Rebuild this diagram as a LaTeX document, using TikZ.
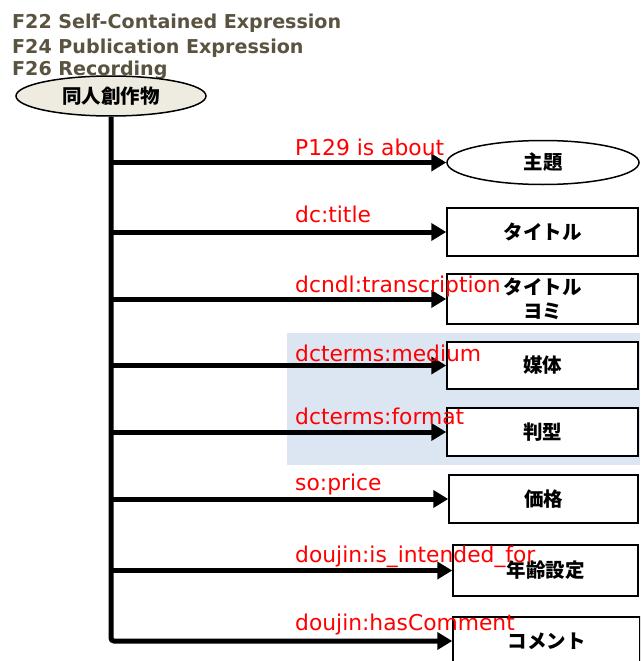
\documentclass[tikz,border=0pt]{standalone}
\usepackage{fontspec}
\setmainfont{DejaVu Sans}
\newfontfamily\jpfont{Noto Sans CJK JP}
\usetikzlibrary{arrows.meta,shapes.geometric}
\definecolor{titlecol}{RGB}{89,83,64}
\definecolor{rootfill}{RGB}{238,236,225}
\definecolor{shadecol}{RGB}{220,230,242}
\begin{document}
\begin{tikzpicture}[x=1pt,y=-1pt,
  titletxt/.style={anchor=base west, inner sep=0pt, text=titlecol, font=\fontsize{19.1}{19.1}\selectfont\bfseries},
  lbl/.style={anchor=base west, inner sep=0pt, text=red, font=\fontsize{21.8}{21.8}\selectfont},
  jp/.style={font=\jpfont\bfseries\fontsize{19.5}{24}\selectfont},
  oval/.style={ellipse, draw, line width=1.5pt, inner sep=0pt, jp},
  box/.style={rectangle, draw, line width=1.5pt, fill=white, inner sep=0pt, minimum width=191pt, jp, align=center},
  conn/.style={line width=5pt, -{Triangle[length=15pt,width=17pt]}}]
\clip (0,0) rectangle (640,661);
\useasboundingbox (0,0) rectangle (640,661);
\fill[white] (0,0) rectangle (640,661);
% shaded region
\fill[shadecol] (287,333) rectangle (640,465);
% title
\node[titletxt] (t1) at (12,29) {F22 Self-Contained Expression};
\node[titletxt] (t2) at (12,53) {F24 Publication Expression};
\node[titletxt] (t3) at (12,76) {F26 Recording};
% root
\node[oval, fill=rootfill, minimum width=190pt, minimum height=40pt] (root) at (111,96) {同人創作物};
% targets
\node[oval, fill=white, minimum width=192pt, minimum height=44pt] (b1) at (543,162.5) {主題};
\node[box, minimum height=48pt] (b2) at (542.5,232) {タイトル};
\node[box, minimum height=50pt] (b3) at (542.5,299) {タイトル\\ヨミ};
\node[box, minimum height=47pt] (b4) at (542.5,365.5) {媒体};
\node[box, minimum height=48pt] (b5) at (542.5,432) {判型};
\node[box, minimum width=189pt, minimum height=48pt] (b6) at (543.5,499) {価格};
\node[box, minimum width=185pt, minimum height=51pt] (b7) at (545.5,570.5) {年齢設定};
\node[box, minimum width=187pt, minimum height=48pt] (b8) at (546.5,641) {};
\node[jp, inner sep=0pt] (b8t) at (546.5,641) {コメント};
% connectors
\draw[conn, rounded corners=3pt] (root.south) |- (b8.west);
\foreach \n in {b1,b2,b3,b4,b5,b6,b7}{
  \draw[conn] (root.south |- \n.west) -- (\n.west);
}
% labels
\node[lbl] (l1) at (295,155) {P129 is about};
\node[lbl] (l2) at (295,222.5) {dc:title};
\node[lbl] (l3) at (295,292) {dcndl:transcription};
\node[lbl] (l4) at (295,361) {dcterms:medium};
\node[lbl] (l5) at (295,424) {dcterms:format};
\node[lbl] (l6) at (295,490) {so:price};
\node[lbl] (l7) at (295,562) {doujin:is\_intended\_for};
\node[lbl] (l8) at (295,630) {doujin:hasComment};
\end{tikzpicture}
\end{document}
